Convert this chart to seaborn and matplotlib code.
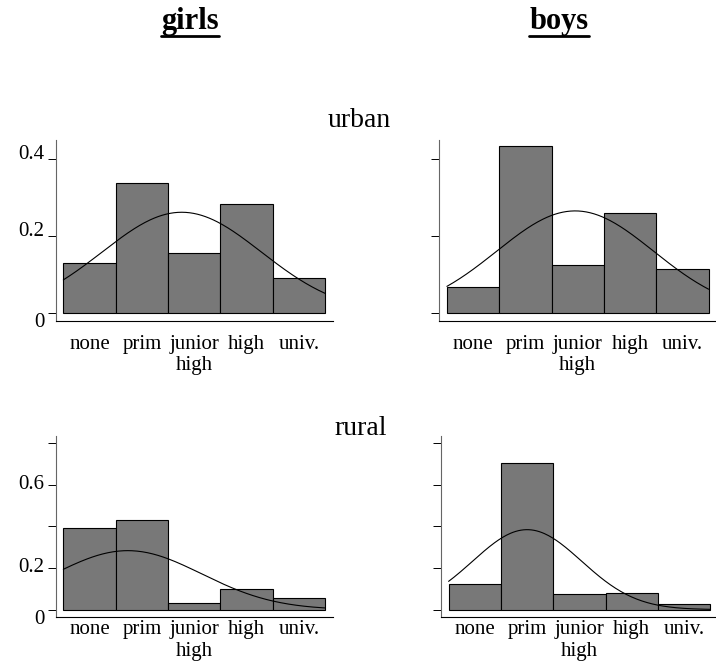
import numpy as np
import pandas as pd
import seaborn as sns
import matplotlib.pyplot as plt
from matplotlib.lines import Line2D

# education levels on the x axis
levels = ["none", "prim", "junior\nhigh", "high", "univ."]

# share of children per level
girls_urban = [0.130, 0.338, 0.156, 0.284, 0.092]
boys_urban = [0.068, 0.434, 0.126, 0.260, 0.114]
girls_rural = [0.390, 0.432, 0.031, 0.098, 0.054]
boys_rural = [0.123, 0.702, 0.074, 0.081, 0.026]

# overlaid normal curves: mean and sd on the 1..5 level scale
curve_mean = [2.76, 2.95, 1.73, 2.00]
curve_sd = [1.52, 1.50, 1.41, 1.04]

top_ticks = [0, 0.2, 0.4]
top_labels = ["0", "0.2", "0.4"]
bottom_ticks = [0, 0.2, 0.4, 0.6, 0.8]
bottom_labels = ["0", "0.2", "", "0.6", ""]

sns.set_style("white")
plt.rcParams["font.family"] = ["Liberation Serif", "DejaVu Serif"]
plt.rcParams["text.color"] = "black"
plt.rcParams["xtick.color"] = "black"
plt.rcParams["ytick.color"] = "black"

W, H = 716, 664
fig = plt.figure(figsize=(W / 100, H / 100), dpi=100)


def rect(x0, x1, y0, y1):
    # pixel box -> figure fraction
    return [x0 / W, 1 - y1 / H, (x1 - x0) / W, (y1 - y0) / H]


panels = [
    (girls_urban, 0, rect(55.7, 333, 140, 320.7), "top", True),
    (boys_urban, 1, rect(439.3, 716.3, 140, 320.7), "top", False),
    (girls_rural, 2, rect(55.7, 333, 436, 616.7), "bottom", True),
    (boys_rural, 3, rect(441, 718, 436, 616.7), "bottom", False),
]

for values, i, box, row, show_labels in panels:
    ax = fig.add_axes(box)
    df = pd.DataFrame({"level": levels, "share": values})
    sns.barplot(data=df, x="level", y="share", order=levels, color="#787878",
                edgecolor="black", linewidth=0.8, width=1.0, saturation=1, ax=ax)

    xs = np.linspace(0.5, 5.5, 200)
    ys = np.exp(-0.5 * ((xs - curve_mean[i]) / curve_sd[i]) ** 2) / (curve_sd[i] * np.sqrt(2 * np.pi))
    sns.lineplot(x=xs - 1, y=ys, color="black", linewidth=0.8, ax=ax)

    ax.set_xlim(-0.645, 4.647)
    ax.set_xlabel("")
    ax.set_ylabel("")
    if row == "top":
        ax.set_ylim(-0.019, 0.45)
        ax.set_yticks(top_ticks)
        ax.set_yticklabels(top_labels if show_labels else [""] * 3)
        xpad = 10
    else:
        ax.set_ylim(-0.034, 0.833)
        ax.set_yticks(bottom_ticks)
        ax.set_yticklabels(bottom_labels if show_labels else [""] * 5)
        xpad = 2.5

    ax.tick_params(axis="x", length=0, pad=xpad, labelsize=15, labelcolor="black")
    ax.tick_params(axis="y", direction="out", length=5.8, width=0.7,
                   color="black", pad=2.5, labelsize=15, labelcolor="black", left=True)
    for t in ax.get_xticklabels():
        t.set_linespacing(1.2)
    for t in ax.get_yticklabels():
        if t.get_text() == "0":
            t.set_va("top")
        elif row == "top":
            t.set_va("baseline")
        else:
            t.set_va("center")

    sns.despine(ax=ax)
    ax.spines["left"].set_color("#666666")
    ax.spines["bottom"].set_color("black")
    for side in ["left", "bottom"]:
        ax.spines[side].set_linewidth(0.8)

# column and row headers
titles = [
    fig.text(190 / W, 1 - 29 / H, "girls", ha="center", va="baseline", fontsize=22, fontweight="bold"),
    fig.text(559 / W, 1 - 29 / H, "boys", ha="center", va="baseline", fontsize=22, fontweight="bold"),
]
fig.text(359.5 / W, 1 - 126.7 / H, "urban", ha="center", va="baseline", fontsize=20)
fig.text(360.8 / W, 1 - 435 / H, "rural", ha="center", va="baseline", fontsize=20)

# underline the headers
renderer = fig.canvas.get_renderer()
for t in titles:
    bb = t.get_window_extent(renderer=renderer)
    fig.add_artist(Line2D([bb.x0 / W, bb.x1 / W], [1 - 36.3 / H, 1 - 36.3 / H],
                          transform=fig.transFigure, color="black", linewidth=2))

fig.savefig("out.png", dpi=100)
